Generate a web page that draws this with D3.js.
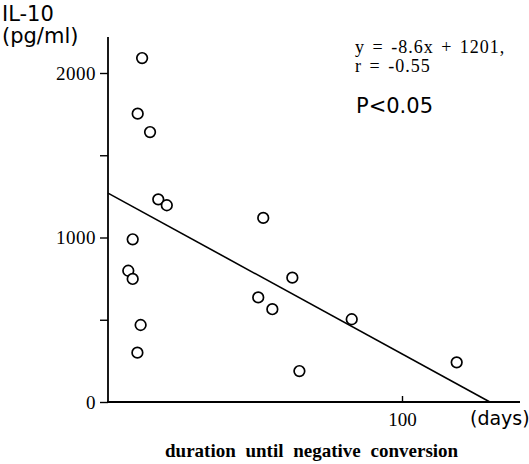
<!DOCTYPE html>
<html>
<head>
<meta charset="utf-8">
<script src="https://cdn.jsdelivr.net/npm/d3@7"></script>
<style>
  body { margin: 0; background: #fff; }
  svg { display: block; }
  .serif { font-family: "Liberation Serif", "Times New Roman", serif; }
  .sans { font-family: "DejaVu Sans", Verdana, sans-serif; }
</style>
</head>
<body>
<div id="canvas"></div>
<script>
// IL-10 vs duration until negative conversion (days)
var days = [11.6, 10.1, 14.3, 17.1, 20.0, 52.8, 8.4, 6.9, 8.4, 11.1, 10.0, 62.7, 51.1, 55.9, 82.9, 65.1, 118.6];
var il10 = [2091, 1753, 1641, 1232, 1196, 1119, 989, 798, 748, 468, 300, 756, 636, 564, 503, 188, 241];

// regression line as drawn in the figure (ends)
var fitDays = [0, 129.9];
var fitIl10 = [1270, 0];

var yTicks = [0, 500, 1000, 1500, 2000];
var yTickLabels = ["0", "", "1000", "", "2000"];
var xTicks = [100];

var width = 529, height = 464;

var svg = d3.select("#canvas")
  .append("svg")
  .attr("width", width)
  .attr("height", height);

var x = d3.scaleLinear().domain([0, 140]).range([108, 519.6]);
var y = d3.scaleLinear().domain([0, 2000]).range([402, 73]);

// y axis
var yAxis = d3.axisLeft(y)
  .tickValues(yTicks)
  .tickSize(8)
  .tickPadding(4)
  .tickFormat(function (d, i) { return yTickLabels[i]; });

var gy = svg.append("g")
  .attr("transform", "translate(" + x(0) + ",0)")
  .call(yAxis);
gy.select(".domain").remove();
gy.selectAll("line").attr("stroke", "#000").attr("stroke-width", 1.4);
gy.selectAll("text")
  .attr("class", "serif")
  .style("font-size", "19px")
  .style("letter-spacing", "0.5px")
  .attr("fill", "#000");

svg.append("line")
  .attr("x1", x(0)).attr("x2", x(0))
  .attr("y1", y(0) + 1).attr("y2", 37)
  .attr("stroke", "#000").attr("stroke-width", 1.8);

// x axis
var xAxis = d3.axisBottom(x)
  .tickValues(xTicks)
  .tickSize(-6)
  .tickPadding(11)
  .tickFormat(d3.format("d"));

var gx = svg.append("g")
  .attr("transform", "translate(0," + y(0) + ")")
  .call(xAxis);
gx.select(".domain").remove();
gx.selectAll("line").attr("stroke", "#000").attr("stroke-width", 1.4);
gx.selectAll("text")
  .attr("class", "serif")
  .style("font-size", "19px")
  .attr("fill", "#000");

svg.append("line")
  .attr("x1", x(0) - 1).attr("x2", 520)
  .attr("y1", y(0)).attr("y2", y(0))
  .attr("stroke", "#000").attr("stroke-width", 1.8);

// regression line
var line = d3.line()
  .x(function (d) { return x(d[0]); })
  .y(function (d) { return y(d[1]); });

svg.append("path")
  .datum(d3.zip(fitDays, fitIl10))
  .attr("d", line)
  .attr("fill", "none")
  .attr("stroke", "#000")
  .attr("stroke-width", 1.6);

// points
svg.selectAll("circle.pt")
  .data(d3.zip(days, il10))
  .enter()
  .append("circle")
  .attr("class", "pt")
  .attr("cx", function (d) { return x(d[0]); })
  .attr("cy", function (d) { return y(d[1]); })
  .attr("r", 5.3)
  .attr("fill", "#fff")
  .attr("stroke", "#000")
  .attr("stroke-width", 1.7);

// labels
svg.append("text").attr("class", "sans")
  .attr("x", 2).attr("y", 21)
  .style("font-size", "21px")
  .text("IL-10");
svg.append("text").attr("class", "sans")
  .attr("x", 2).attr("y", 43)
  .style("font-size", "21px")
  .text("(pg/ml)");

svg.append("text").attr("class", "sans")
  .attr("x", 470).attr("y", 425)
  .style("font-size", "19px")
  .text("(days)");

svg.append("text").attr("class", "serif")
  .attr("x", 165).attr("y", 457)
  .style("font-size", "19px")
  .style("font-weight", "bold")
  .style("word-spacing", "5px")
  .text("duration until negative conversion");

// equation, two tight lines
svg.append("text").attr("class", "serif")
  .attr("x", 355).attr("y", 53)
  .style("font-size", "18px")
  .style("letter-spacing", "1px")
  .style("word-spacing", "2px")
  .text("y = -8.6x + 1201,");
svg.append("text").attr("class", "serif")
  .attr("x", 355).attr("y", 72)
  .style("font-size", "18px")
  .style("letter-spacing", "1px")
  .style("word-spacing", "2px")
  .text("r = -0.55");

svg.append("text").attr("class", "sans")
  .attr("x", 356).attr("y", 113)
  .style("font-size", "21px")
  .text("P<0.05");
</script>
</body>
</html>
